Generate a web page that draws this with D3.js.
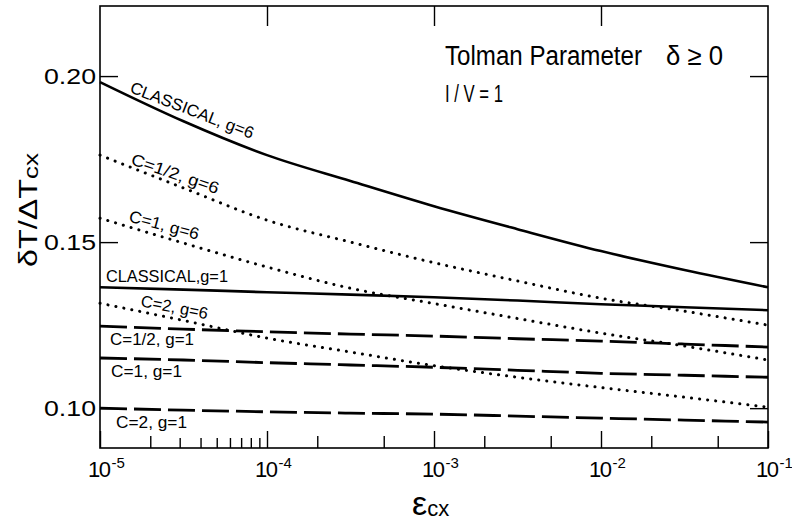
<!DOCTYPE html>
<html>
<head>
<meta charset="utf-8">
<script src="https://cdn.jsdelivr.net/npm/d3@7"></script>
<style>
body { margin: 0; background: #fff; }
text { font-family: "Liberation Sans", Arial, sans-serif; fill: #000; }
</style>
</head>
<body>
<div class="container"></div>
<script>
const wd = 792
const ht = 524

// epsilon_cx sample points (decades and half decades)
const eps = [1e-5, 3.162e-5, 1e-4, 3.162e-4, 1e-3, 3.162e-3, 1e-2, 3.162e-2, 1e-1]

const classicalG6 = [0.1982, 0.1864, 0.1762, 0.1684, 0.1608, 0.1539, 0.1473, 0.1416, 0.1364]
const cHalfG6     = [0.1762, 0.1663, 0.1566, 0.1500, 0.1438, 0.1383, 0.1331, 0.1292, 0.1250]
const c1G6        = [0.1572, 0.1497, 0.1425, 0.1361, 0.1315, 0.1270, 0.1226, 0.1187, 0.1145]
const classicalG1 = [0.1364, 0.1357, 0.1349, 0.1342, 0.1334, 0.1324, 0.1313, 0.1304, 0.1295]
const c2G6        = [0.1316, 0.1264, 0.1211, 0.1169, 0.1128, 0.1093, 0.1062, 0.1033, 0.1003]
const cHalfG1     = [0.1247, 0.1238, 0.1230, 0.1223, 0.1217, 0.1209, 0.1202, 0.1193, 0.1184]
const c1G1        = [0.1151, 0.1145, 0.1137, 0.1130, 0.1123, 0.1114, 0.1105, 0.1099, 0.1093]
const c2G1        = [0.1000, 0.0994, 0.0989, 0.0985, 0.0982, 0.0976, 0.0970, 0.0964, 0.0958]

const curveNames = ["CLASSICAL, g=6", "C=1/2, g=6", "C=1, g=6", "CLASSICAL,g=1", "C=2, g=6", "C=1/2, g=1", "C=1, g=1", "C=2, g=1"]

const majorTicks = [1e-5, 1e-4, 1e-3, 1e-2, 1e-1]
const majorExps = ["-5", "-4", "-3", "-2", "-1"]
const minorTicks = [2e-5, 2e-4, 5e-4, 2e-3, 5e-3, 2e-2, 5e-2]
const smallTicks = [3e-5, 4e-5, 5e-5, 6e-5, 7e-5, 8e-5, 9e-5]
const topTicks = [1e-4, 1e-3, 1e-2]
const yTicks = [0.10, 0.15, 0.20]
const yLabels = ["0.10", "0.15", "0.20"]

const svgC = d3.select(".container")
.append("svg")
.attr("width", wd)
.attr("height", ht)
.style("background", "#fff")

const xScale = d3.scaleLog()
.domain([1e-5, 1e-1])
.range([100, 768])

const yScale = d3.scaleLinear()
.domain([0.088, 0.2211])
.range([448, 6])

const lineObj = d3.line()
.x((d, i) => xScale(eps[i]))
.y(d => yScale(d))
.curve(d3.curveMonotoneX)

const styles = {
  solid:  {dash: null, w: 2.6, cap: "butt"},
  dotted: {dash: "0.1 8", w: 3, cap: "round"},
  dashed: {dash: "27 7", w: 2.8, cap: "butt"}
}

const curves = [
  {vals: classicalG6, kind: "solid"},
  {vals: cHalfG6, kind: "dotted"},
  {vals: c1G6, kind: "dotted"},
  {vals: classicalG1, kind: "solid"},
  {vals: c2G6, kind: "dotted"},
  {vals: cHalfG1, kind: "dashed"},
  {vals: c1G1, kind: "dashed"},
  {vals: c2G1, kind: "dashed"}
]

// where each curve name sits: [eps, value, angle, length]
const labelPos = [
  [1.49e-5, 0.1952, 21, 131],
  [1.51e-5, 0.1735, 19, 92],
  [1.47e-5, 0.1563, 15, 72],
  [1.086e-5, 0.1380, 0, 122],
  [1.738e-5, 0.1307, 11, 68],
  [1.148e-5, 0.1190, 0, 84],
  [1.164e-5, 0.1093, 0, 71],
  [1.247e-5, 0.0940, 0, 71]
]

// axes
svgC.append("g")
.attr("transform", "translate(0,448)")
.call(d3.axisBottom(xScale).tickValues(majorTicks).tickSize(-17).tickFormat(""))
svgC.append("g")
.attr("transform", "translate(0,448)")
.call(d3.axisBottom(xScale).tickValues(minorTicks).tickSize(-12).tickFormat(""))
svgC.append("g")
.attr("transform", "translate(0,448)")
.call(d3.axisBottom(xScale).tickValues(smallTicks).tickSize(-10).tickFormat(""))
svgC.append("g")
.attr("transform", "translate(0,6)")
.call(d3.axisTop(xScale).tickValues(topTicks).tickSize(-20).tickFormat(""))
const leftAx = svgC.append("g")
.attr("transform", "translate(100,0)")
.call(d3.axisLeft(yScale).tickValues(yTicks).tickSize(-18).tickPadding(4).tickFormat((d, i) => yLabels[i]))
svgC.append("g")
.attr("transform", "translate(768,0)")
.call(d3.axisRight(yScale).tickValues(yTicks).tickSize(-18).tickFormat(""))

svgC.selectAll(".domain").remove()
svgC.selectAll(".tick line").style("stroke", "#000").style("stroke-width", "1.4px")

leftAx.selectAll("text")
.style("font-size", "22px")
.attr("textLength", 52)
.attr("lengthAdjust", "spacingAndGlyphs")

// x tick labels 10^n
majorTicks.forEach((t, i) => {
  const tx = svgC.append("text")
  .attr("x", xScale(t) - 12)
  .attr("y", 477)
  .style("font-size", "22px")
  .style("letter-spacing", "-1.5px")
  tx.append("tspan").text("10")
  tx.append("tspan").text(majorExps[i]).attr("dx", 2).attr("dy", -9).style("font-size", "15px").style("letter-spacing", "0px")
})

// frame
svgC.append("rect")
.attr("x", xScale(1e-5))
.attr("y", yScale(0.2211))
.attr("width", xScale(1e-1) - xScale(1e-5))
.attr("height", yScale(0.088) - yScale(0.2211))
.attr("fill", "none")
.style("stroke", "#000")
.style("stroke-width", "1.6px")

// curves
curves.forEach(c => {
  const s = styles[c.kind]
  svgC.append("path")
  .attr("d", lineObj(c.vals))
  .attr("fill", "none")
  .style("stroke", "#000")
  .style("stroke-width", s.w + "px")
  .style("stroke-linecap", s.cap)
  .style("stroke-dasharray", s.dash)
})

// curve names
curveNames.forEach((n, i) => {
  const p = labelPos[i]
  svgC.append("text")
  .attr("transform", `translate(${xScale(p[0])},${yScale(p[1])}) rotate(${p[2]})`)
  .attr("textLength", p[3])
  .attr("lengthAdjust", "spacingAndGlyphs")
  .style("font-size", "16.5px")
  .text(n)
})

// title block
svgC.append("text")
.attr("x", 445).attr("y", 65)
.attr("textLength", 197).attr("lengthAdjust", "spacingAndGlyphs")
.style("font-size", "27px")
.text("Tolman Parameter")
svgC.append("text")
.attr("x", 666).attr("y", 65)
.attr("textLength", 57).attr("lengthAdjust", "spacingAndGlyphs")
.style("font-size", "27px")
.text("δ ≥ 0")
svgC.append("text")
.attr("x", 445).attr("y", 102)
.attr("textLength", 58).attr("lengthAdjust", "spacingAndGlyphs")
.style("font-size", "23px")
.text("I / V = 1")

// axis titles
const xt = svgC.append("text")
.attr("x", 412).attr("y", 515)
xt.append("tspan").text("ε").style("font-size", "34px")
xt.append("tspan").text("cx").style("font-size", "22px").attr("dy", 1)

const yt = svgC.append("text")
.attr("transform", "translate(37,267) rotate(-90)")
.attr("textLength", 114).attr("lengthAdjust", "spacingAndGlyphs")
yt.append("tspan").text("δT/ΔT").style("font-size", "26px")
yt.append("tspan").text("cx").style("font-size", "21px").attr("dy", 1)
</script>
</body>
</html>
